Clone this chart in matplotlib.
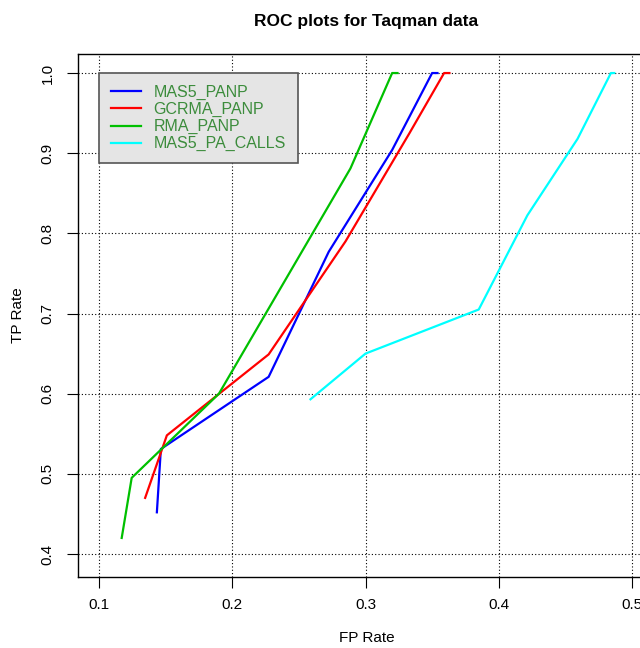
import matplotlib
matplotlib.use('Agg')
import matplotlib.pyplot as plt

plt.rcParams['font.family'] = ['Liberation Sans', 'DejaVu Sans']

# ROC curves
mas5_fp = [0.1434, 0.1464, 0.2273, 0.2724, 0.320, 0.335, 0.350, 0.354]
mas5_tp = [0.452, 0.531, 0.621, 0.777, 0.904, 0.952, 1.0, 1.0]

gcrma_fp = [0.1346, 0.1509, 0.2273, 0.285, 0.333, 0.359, 0.363]
gcrma_tp = [0.470, 0.548, 0.649, 0.790, 0.925, 1.0, 1.0]

rma_fp = [0.117, 0.1245, 0.190, 0.2887, 0.320, 0.324]
rma_tp = [0.420, 0.495, 0.600, 0.881, 1.0, 1.0]

calls_fp = [0.2587, 0.300, 0.385, 0.4215, 0.4592, 0.4842, 0.4867]
calls_tp = [0.593, 0.650, 0.705, 0.8225, 0.918, 1.0, 1.0]

labels = ['MAS5_PANP', 'GCRMA_PANP', 'RMA_PANP', 'MAS5_PA_CALLS']
colors = ['#0000ff', '#ff0000', '#00c000', '#00ffff']

fig = plt.figure(figsize=(6.4, 6.48), dpi=100)
ax = fig.add_axes([78/640, 71/648, (655-78)/640, (577-54)/648])

series = [(mas5_fp, mas5_tp), (gcrma_fp, gcrma_tp), (rma_fp, rma_tp), (calls_fp, calls_tp)]
for (fp, tp), lab, col in zip(series, labels, colors):
    ax.plot(fp, tp, color=col, lw=1.6, label=lab)

ax.set_xlim(0.0842, 0.5173)
ax.set_ylim(0.3713, 1.02375)
ax.set_xticks([0.1, 0.2, 0.3, 0.4, 0.5])
ax.set_yticks([0.4, 0.5, 0.6, 0.7, 0.8, 0.9, 1.0])
ax.set_xticklabels(['0.1', '0.2', '0.3', '0.4', '0.5'])
ax.set_yticklabels(['0.4', '0.5', '0.6', '0.7', '0.8', '0.9', '1.0'], rotation=90, va='center')
ax.grid(True, color='black', linestyle=(0, (1, 2)), lw=0.8)
ax.tick_params(direction='out', length=8, width=0.8, labelsize=11, colors='black')
ax.tick_params(axis='x', pad=7)
ax.tick_params(axis='y', pad=9)
for s in ax.spines.values():
    s.set_linewidth(1.0)

ax.set_title('ROC plots for Taqman data', fontsize=12.5, fontweight='bold', pad=20)
ax.set_xlabel('FP Rate', fontsize=11, labelpad=14)
ax.set_ylabel('TP Rate', fontsize=11, labelpad=11)

leg = ax.legend(loc='upper left', bbox_to_anchor=(0.1, 1.0), bbox_transform=ax.transData,
                borderaxespad=0, fancybox=False, framealpha=1, facecolor='#e5e5e5',
                edgecolor='#555555', fontsize=11.5, labelcolor='#3c8c3c',
                handlelength=1.9, handletextpad=0.75, labelspacing=0.12, borderpad=0.75)
leg.get_frame().set_linewidth(1.2)

fig.savefig('out.png', dpi=100)
